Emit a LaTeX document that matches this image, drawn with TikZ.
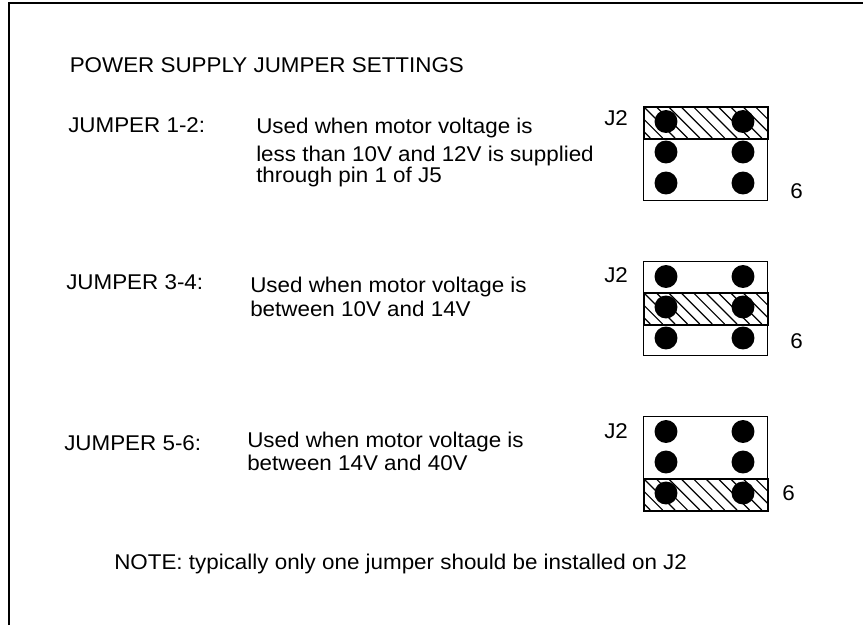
\documentclass[tikz,border=0pt]{standalone}
\usepackage{fontspec}
\setmainfont[FakeStretch=1.05]{Liberation Sans}
\tikzset{
  x=0.75pt,y=-0.75pt,
  lbl/.style={anchor=base west,inner sep=0pt,font=\fontsize{16}{19}\selectfont,align=left},
  body/.style={draw=black,line width=0.9pt,fill=white},
  jumperbar/.style={draw=black,line width=1.8pt},
  hatchline/.style={draw=black,line width=0.9pt},
  pin/.style={circle,fill=black,inner sep=0pt,minimum size=17.2pt}
}
\newcommand{\header}[4]{% y top, jumper top, pin reference y, name prefix
  \node[body,anchor=north west,minimum width=93pt,minimum height=70.5pt,inner sep=0pt] (#4box) at (643,#1) {};
  \begin{scope}
    \clip (643,#2) rectangle ++(124,32);
    \fill[white] (643,#2) rectangle ++(124,32);
    \foreach \k in {-3,...,10}{
      \draw[hatchline] (643+\k*12.4,#2) -- ++(32,32);
    }
  \end{scope}
  \node[jumperbar,anchor=north west,minimum width=93pt,minimum height=24pt,inner sep=0pt] (#4bar) at (643,#2) {};
  \foreach \n/\px/\py in {a/666/#3+15.5,b/743/#3+15.5,c/666/#3+46,d/743/#3+46,e/666/#3+77,f/743/#3+77}{
    \pgfmathsetmacro{\pyy}{\py}
    \node[pin] (#4\n) at (\px,\pyy) {};
  }
}
\begin{document}
\begin{tikzpicture}
\useasboundingbox (0,0) rectangle (863,625);
\fill[white] (0,0) rectangle (863,625);
\coordinate (bl) at (9,625);
\coordinate (tl) at (9,3);
\coordinate (tr) at (863,3);
\draw[line width=1.1pt] (bl) -- (tl) -- (tr);
\node[lbl] (title) at (69.5,72.5) {POWER SUPPLY JUMPER SETTINGS};
\node[lbl] (j12) at (68,132) {JUMPER 1-2:};
\node[lbl] (t12a) at (256,133) {Used when motor voltage is};
\node[lbl] (t12b) at (256,161) {less than 10V and 12V is supplied};
\node[lbl] (t12c) at (256,182) {through pin 1 of J5};
\node[lbl] (j34) at (66,289) {JUMPER 3-4:};
\node[lbl] (t34a) at (250,292) {Used when motor voltage is};
\node[lbl] (t34b) at (250,316) {between 10V and 14V};
\node[lbl] (j56) at (64,450) {JUMPER 5-6:};
\node[lbl] (t56a) at (247,447) {Used when motor voltage is};
\node[lbl] (t56b) at (247,470) {between 14V and 40V};
\node[lbl] (note) at (114,569) {NOTE: typically only one jumper should be installed on J2};
\header{106}{106}{106}{p}
\header{261}{292}{261}{q}
\header{416}{478}{416}{r}
\node[lbl] (j2a) at (604,125) {J2};
\node[lbl] (j2b) at (604,282) {J2};
\node[lbl] (j2c) at (604,438) {J2};
\node[lbl] (six1) at (790,198) {6};
\node[lbl] (six2) at (790,348) {6};
\node[lbl] (six3) at (782,500) {6};
\end{tikzpicture}
\end{document}
